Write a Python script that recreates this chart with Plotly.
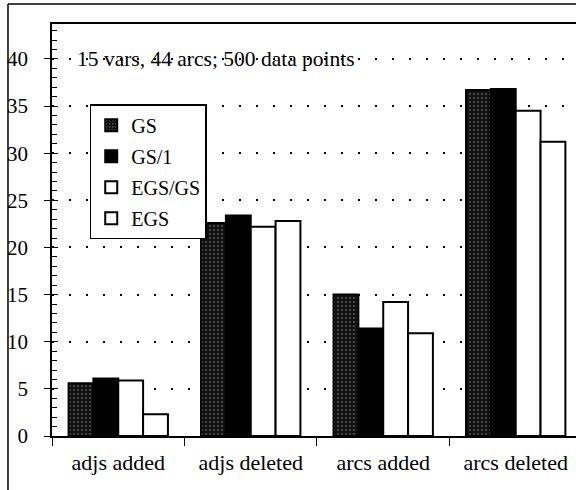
import plotly.graph_objects as go

categories = ["adjs added", "adjs deleted", "arcs added", "arcs deleted"]
series_names = ["GS", "GS/1", "EGS/GS", "EGS"]
gs_values = [5.6, 22.6, 15.0, 36.7]
gs1_values = [6.1, 23.4, 11.4, 36.8]
egsgs_values = [5.9, 22.2, 14.2, 34.5]
egs_values = [2.3, 22.8, 10.9, 31.2]
y_ticks = [0, 5, 10, 15, 20, 25, 30, 35, 40]
title_text = "15 vars, 44 arcs; 500 data points"

SERIF = "Liberation Serif, Times New Roman, serif"

fig = go.Figure()
all_values = [gs_values, gs1_values, egsgs_values, egs_values]
styles = [
    dict(color="#111111", pattern=dict(shape=".", fgcolor="#aaaaaa", bgcolor="#111111",
                                       size=4, solidity=0.16)),
    dict(color="#000000"),
    dict(color="#ffffff"),
    dict(color="#ffffff"),
]
for name, vals, st in zip(series_names, all_values, styles):
    marker = dict(color=st["color"], line=dict(color="black", width=2))
    if "pattern" in st:
        marker["pattern"] = st["pattern"]
    fig.add_trace(go.Bar(x=categories, y=vals, name=name, marker=marker,
                         legendgroup=name))

# invisible trace to draw inner halves of the major ticks on the y axis
fig.add_trace(go.Scatter(x=[categories[0]], y=[0], yaxis="y2", mode="markers",
                         marker=dict(opacity=0), showlegend=False, hoverinfo="skip"))

fig.update_layout(
    width=576, height=490,
    margin=dict(l=52, r=0, t=24, b=54, autoexpand=False),
    paper_bgcolor="white", plot_bgcolor="white",
    barmode="group", bargap=0.25, bargroupgap=0,
    font=dict(family=SERIF, size=21, color="black"),
    showlegend=True,
    legend=dict(x=0.072, y=0.805, xanchor="left", yanchor="top",
                bordercolor="black", borderwidth=1.5, bgcolor="white",
                font=dict(family=SERIF, size=20, color="black"),
                traceorder="grouped", tracegroupgap=2, itemwidth=30),
    xaxis=dict(type="category", range=[-0.5, 3.455], showline=True, linecolor="black",
               linewidth=1.5, mirror=True, ticks="outside", ticklen=8, tickwidth=1.2,
               tickcolor="black", tickson="boundaries", showgrid=False, automargin=False,
               tickfont=dict(family=SERIF, size=22), ticklabelstandoff=6),
    yaxis=dict(range=[0, 43.7], tickvals=y_ticks, showline=True, linecolor="black",
               linewidth=1.5, ticks="outside", ticklen=6, tickwidth=1.2, tickcolor="black",
               showgrid=True, gridcolor="black", gridwidth=1.5, griddash="2px,15px",
               zeroline=False, ticklabelstandoff=12, automargin=False,
               tickfont=dict(family=SERIF, size=21),
               minor=dict(dtick=1, ticks="inside", ticklen=5, tickcolor="black",
                          tickwidth=1, showgrid=False)),
    yaxis2=dict(range=[0, 43.7], tickvals=y_ticks, overlaying="y", side="left",
                anchor="x", ticks="inside", ticklen=6, tickwidth=1.2, tickcolor="black",
                showticklabels=False, showgrid=False, zeroline=False, showline=False,
                automargin=False),
    annotations=[dict(text=title_text, xref="paper", yref="y", x=0.043, y=40,
                      xanchor="left", yanchor="middle", showarrow=False,
                      font=dict(family=SERIF, size=21.5, color="black"))],
    shapes=[
        dict(type="line", xref="paper", yref="paper", x0=-0.084, x1=1.0,
             y0=1.0485, y1=1.0485, line=dict(color="black", width=1.5)),
        dict(type="line", xref="paper", yref="paper", x0=-0.084, x1=-0.084,
             y0=1.0485, y1=-0.14, line=dict(color="black", width=1.5)),
    ],
)

fig.write_html("out.html", config={"displayModeBar": False},
               post_script="document.body.style.margin='0px';document.body.style.overflow='hidden';")
